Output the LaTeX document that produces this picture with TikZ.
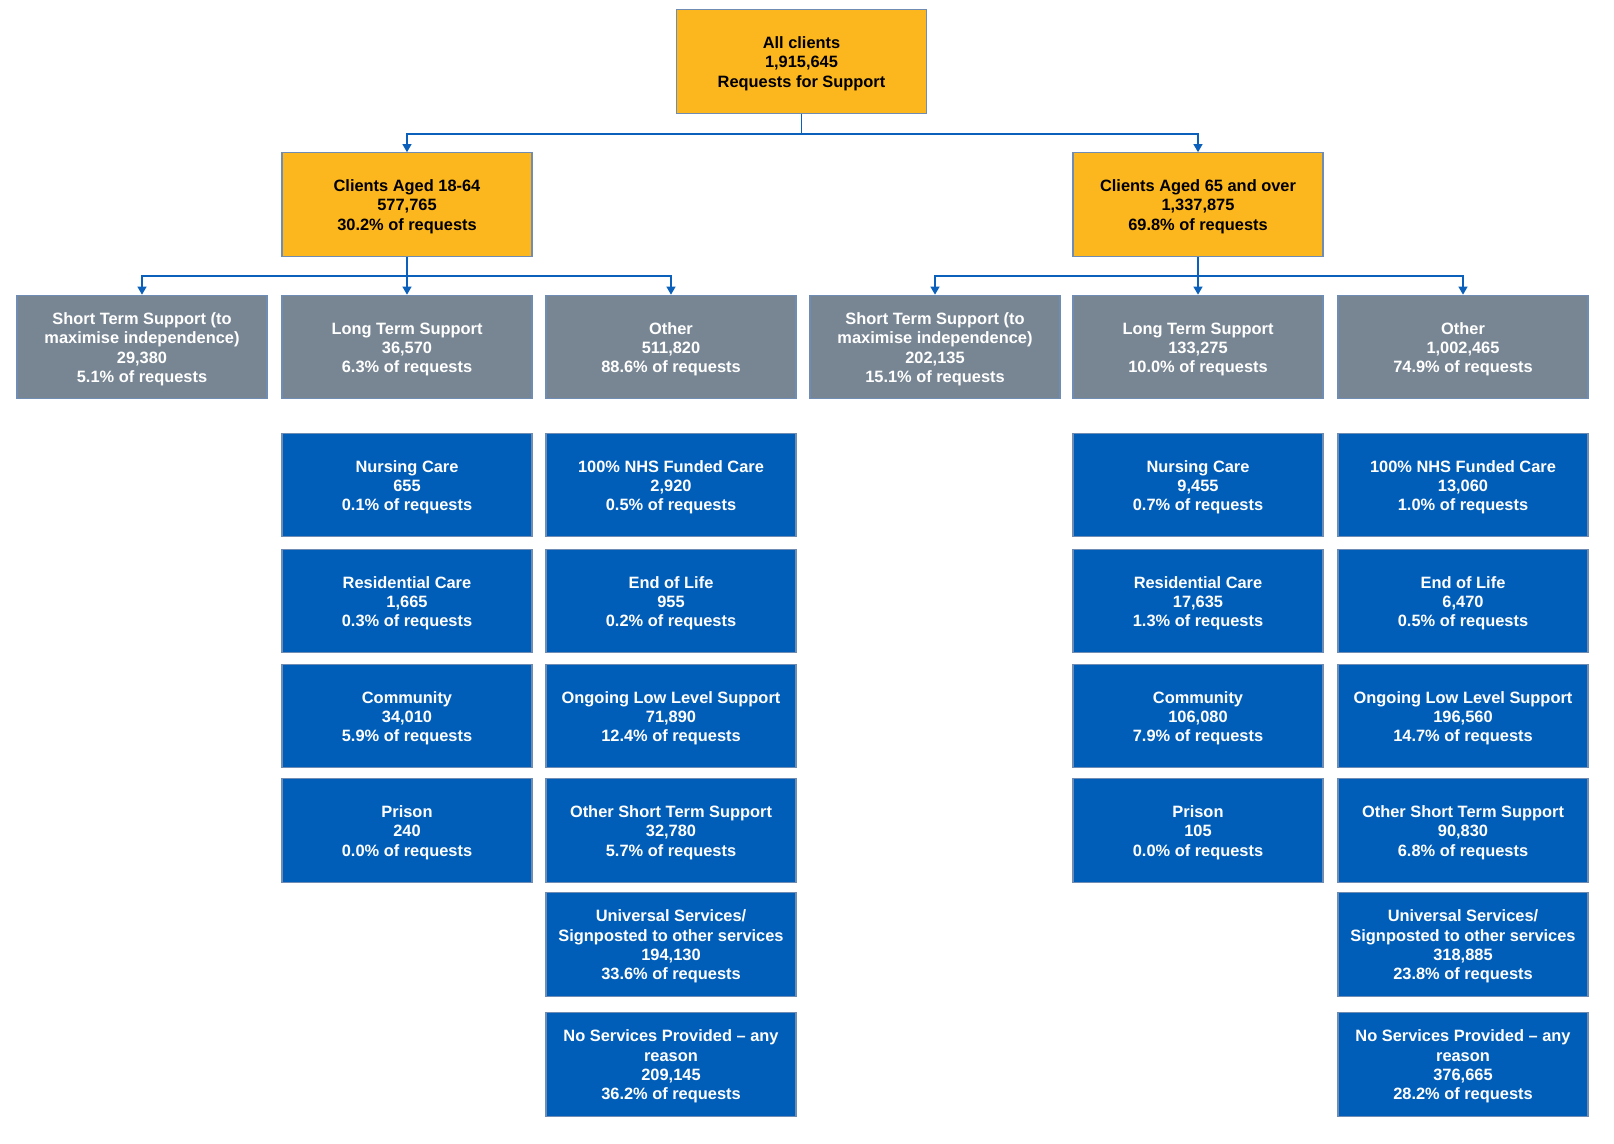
\documentclass[tikz,border=0pt]{standalone}
\usepackage{fontspec}
\setmainfont{Liberation Sans}
\usetikzlibrary{arrows.meta}
\definecolor{orangefill}{RGB}{252,183,30}
\definecolor{greyfill}{RGB}{120,134,148}
\definecolor{bluefill}{RGB}{0,94,184}
\definecolor{edgeblue}{RGB}{110,140,180}
\definecolor{connblue}{RGB}{10,96,186}
\newcommand{\tstrut}{\rule{0pt}{12.2pt}}
\tikzset{
  box/.style={draw=edgeblue, line width=0.9pt, minimum width=187.5pt, minimum height=77.5pt,
    inner sep=0pt, align=center, font=\fontsize{12.3}{14.5}\selectfont\bfseries},
  orangebox/.style={box, fill=orangefill, text=black},
  greybox/.style={box, fill=greyfill, text=white},
  bluebox/.style={box, fill=bluefill, text=white},
  conn/.style={draw=connblue, line width=1.4pt, -{Triangle[width=6.5pt,length=6pt]}}
}
\begin{document}
\begin{tikzpicture}[x=0.75pt,y=-0.75pt]
\useasboundingbox[fill=white] (0,0) rectangle (1614,1144);
% top
\node[orangebox] (all) at (801.5,61.5) {\tstrut All clients\\1,915,645\\Requests for Support};
\node[orangebox] (a1) at (407,204.5) {\tstrut Clients Aged 18-64\\577,765\\30.2\% of requests};
\node[orangebox] (a2) at (1198,204.5) {\tstrut Clients Aged 65 and over\\1,337,875\\69.8\% of requests};
% grey row
\node[greybox] (g1) at (142,347) {\tstrut Short Term Support (to\\maximise independence)\\29,380\\5.1\% of requests};
\node[greybox] (g2) at (407,347) {\tstrut Long Term Support\\36,570\\6.3\% of requests};
\node[greybox] (g3) at (671,347) {\tstrut Other\\511,820\\88.6\% of requests};
\node[greybox] (g4) at (935,347) {\tstrut Short Term Support (to\\maximise independence)\\202,135\\15.1\% of requests};
\node[greybox] (g5) at (1198,347) {\tstrut Long Term Support\\133,275\\10.0\% of requests};
\node[greybox] (g6) at (1463,347) {\tstrut Other\\1,002,465\\74.9\% of requests};
% blue column 2
\node[bluebox] (b21) at (407,485) {\tstrut Nursing Care\\655\\0.1\% of requests};
\node[bluebox] (b22) at (407,601) {\tstrut Residential Care\\1,665\\0.3\% of requests};
\node[bluebox] (b23) at (407,716) {\tstrut Community\\34,010\\5.9\% of requests};
\node[bluebox] (b24) at (407,830.5) {\tstrut Prison\\240\\0.0\% of requests};
% blue column 3
\node[bluebox] (b31) at (671,485) {\tstrut 100\% NHS Funded Care\\2,920\\0.5\% of requests};
\node[bluebox] (b32) at (671,601) {\tstrut End of Life\\955\\0.2\% of requests};
\node[bluebox] (b33) at (671,716) {\tstrut Ongoing Low Level Support\\71,890\\12.4\% of requests};
\node[bluebox] (b34) at (671,830.5) {\tstrut Other Short Term Support\\32,780\\5.7\% of requests};
\node[bluebox] (b35) at (671,944.5) {\tstrut Universal Services/\\Signposted to other services\\194,130\\33.6\% of requests};
\node[bluebox] (b36) at (671,1064.5) {\tstrut No Services Provided -- any\\reason\\209,145\\36.2\% of requests};
% blue column 5
\node[bluebox] (b51) at (1198,485) {\tstrut Nursing Care\\9,455\\0.7\% of requests};
\node[bluebox] (b52) at (1198,601) {\tstrut Residential Care\\17,635\\1.3\% of requests};
\node[bluebox] (b53) at (1198,716) {\tstrut Community\\106,080\\7.9\% of requests};
\node[bluebox] (b54) at (1198,830.5) {\tstrut Prison\\105\\0.0\% of requests};
% blue column 6
\node[bluebox] (b61) at (1463,485) {\tstrut 100\% NHS Funded Care\\13,060\\1.0\% of requests};
\node[bluebox] (b62) at (1463,601) {\tstrut End of Life\\6,470\\0.5\% of requests};
\node[bluebox] (b63) at (1463,716) {\tstrut Ongoing Low Level Support\\196,560\\14.7\% of requests};
\node[bluebox] (b64) at (1463,830.5) {\tstrut Other Short Term Support\\90,830\\6.8\% of requests};
\node[bluebox] (b65) at (1463,944.5) {\tstrut Universal Services/\\Signposted to other services\\318,885\\23.8\% of requests};
\node[bluebox] (b66) at (1463,1064.5) {\tstrut No Services Provided -- any\\reason\\376,665\\28.2\% of requests};
% connectors
\draw[conn] (all.south) -- ++(0,20) -| (a1.north);
\draw[conn] (all.south) -- ++(0,20) -| (a2.north);
\draw[conn] (a1.south) -- ++(0,19) -| (g1.north);
\draw[conn] (a1.south) -- (g2.north);
\draw[conn] (a1.south) -- ++(0,19) -| (g3.north);
\draw[conn] (a2.south) -- ++(0,19) -| (g4.north);
\draw[conn] (a2.south) -- (g5.north);
\draw[conn] (a2.south) -- ++(0,19) -| (g6.north);
\end{tikzpicture}
\end{document}
